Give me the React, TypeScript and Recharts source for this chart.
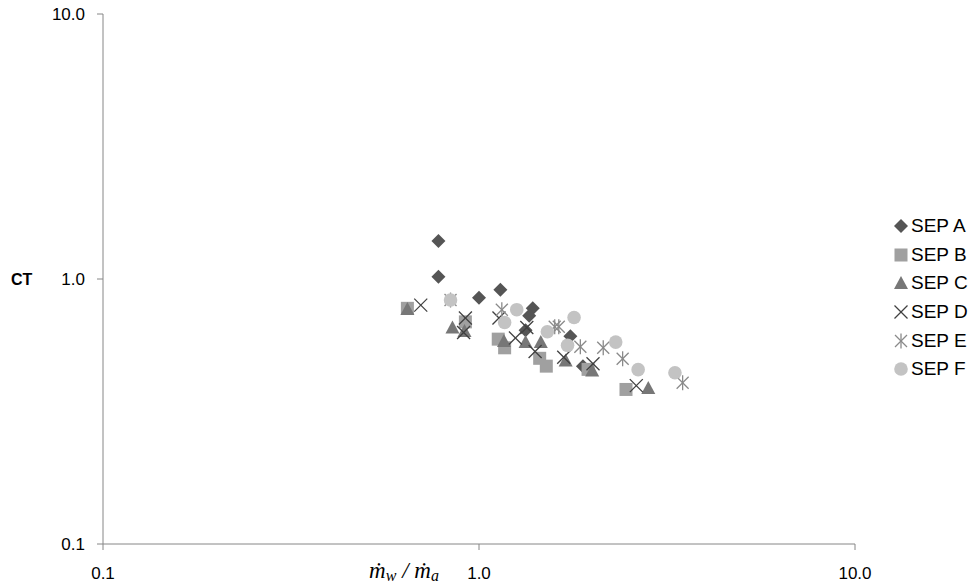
import { ScatterChart, Scatter, XAxis, YAxis } from "recharts";

// series names as shown in the legend
const seriesNames = ["SEP A", "SEP B", "SEP C", "SEP D", "SEP E", "SEP F"];

// mw/ma ratio (x) and CT (y)
const sepAx = [0.78, 0.78, 1.0, 1.14, 1.39, 1.36, 1.33, 1.75, 1.89];
const sepAy = [1.39, 1.02, 0.85, 0.91, 0.775, 0.727, 0.641, 0.608, 0.469];

const sepBx = [0.645, 0.92, 1.125, 1.17, 1.45, 1.51, 1.95, 2.46];
const sepBy = [0.775, 0.689, 0.593, 0.55, 0.502, 0.469, 0.456, 0.383];

const sepCx = [0.645, 0.85, 0.915, 1.165, 1.33, 1.46, 1.7, 2.0, 2.82];
const sepCy = [0.77, 0.656, 0.636, 0.584, 0.579, 0.579, 0.493, 0.452, 0.388];

const sepDx = [0.7, 0.92, 0.91, 1.13, 1.25, 1.34, 1.41, 1.68, 2.01, 2.62];
const sepDy = [0.797, 0.713, 0.628, 0.713, 0.599, 0.656, 0.533, 0.507, 0.479, 0.396];

const sepEx = [0.84, 1.15, 1.59, 1.63, 1.86, 2.14, 2.41, 3.48];
const sepEy = [0.833, 0.766, 0.66, 0.66, 0.555, 0.55, 0.5, 0.406];

const sepFx = [0.84, 1.26, 1.17, 1.79, 1.52, 1.72, 2.31, 2.65, 3.32];
const sepFy = [0.833, 0.766, 0.685, 0.716, 0.632, 0.562, 0.578, 0.455, 0.443];

const xTicks = [0.1, 1, 10];
const yTicks = [0.1, 1, 10];

const toPoints = (xs: number[], ys: number[]) => xs.map((x, i) => ({ x, y: ys[i] }));

type MarkProps = { cx?: number; cy?: number };

function Diamond({ cx = 0, cy = 0 }: MarkProps) {
  const r = 7;
  return <polygon points={`${cx},${cy - r} ${cx + r},${cy} ${cx},${cy + r} ${cx - r},${cy}`} fill="#555555" />;
}

function SquareMark({ cx = 0, cy = 0 }: MarkProps) {
  return <rect x={cx - 6.5} y={cy - 6.5} width={13} height={13} fill="#a0a0a0" />;
}

function TriangleMark({ cx = 0, cy = 0 }: MarkProps) {
  return <polygon points={`${cx},${cy - 7} ${cx + 7},${cy + 6} ${cx - 7},${cy + 6}`} fill="#777777" />;
}

function XMark({ cx = 0, cy = 0 }: MarkProps) {
  const r = 6.5;
  return (
    <g stroke="#404040" strokeWidth={1.3}>
      <line x1={cx - r} y1={cy - r} x2={cx + r} y2={cy + r} />
      <line x1={cx - r} y1={cy + r} x2={cx + r} y2={cy - r} />
    </g>
  );
}

function StarMark({ cx = 0, cy = 0 }: MarkProps) {
  const r = 6;
  return (
    <g stroke="#8a8a8a" strokeWidth={1.3}>
      <line x1={cx - r} y1={cy - r} x2={cx + r} y2={cy + r} />
      <line x1={cx - r} y1={cy + r} x2={cx + r} y2={cy - r} />
      <line x1={cx} y1={cy - r - 1.5} x2={cx} y2={cy + r + 1.5} />
    </g>
  );
}

function CircleMark({ cx = 0, cy = 0 }: MarkProps) {
  return <circle cx={cx} cy={cy} r={6.8} fill="#c3c3c3" />;
}

const series = [
  { name: seriesNames[0], data: toPoints(sepAx, sepAy), Mark: Diamond },
  { name: seriesNames[1], data: toPoints(sepBx, sepBy), Mark: SquareMark },
  { name: seriesNames[2], data: toPoints(sepCx, sepCy), Mark: TriangleMark },
  { name: seriesNames[3], data: toPoints(sepDx, sepDy), Mark: XMark },
  { name: seriesNames[4], data: toPoints(sepEx, sepEy), Mark: StarMark },
  { name: seriesNames[5], data: toPoints(sepFx, sepFy), Mark: CircleMark },
];

// x axis title: m-dot_w / m-dot_a
function FlowTitle() {
  return (
    <text x={404} y={578} textAnchor="middle" fontFamily='"Liberation Serif", "Times New Roman", serif' fontStyle="italic" fontSize={23} fill="#000">
      <tspan>ṁ</tspan>
      <tspan fontSize={16} dy={3}>w</tspan>
      <tspan dy={-3}> / ṁ</tspan>
      <tspan fontSize={16} dy={3}>a</tspan>
    </text>
  );
}

const font = '"Liberation Sans", Arial, sans-serif';

export default function App() {
  return (
    <div style={{ position: "relative", width: 970, height: 588, fontFamily: font, background: "#fff" }}>
      <style>{"body{margin:0}"}</style>
      <ScatterChart width={970} height={588} margin={{ top: 14, right: 115, bottom: 0, left: 0 }}>
        <XAxis
          dataKey="x"
          type="number"
          scale="log"
          domain={[0.1, 10]}
          ticks={xTicks}
          interval={0}
          allowDataOverflow
          height={44}
          stroke="#868686"
          tickSize={6}
          tickMargin={17}
          tick={{ fill: "#000", fontSize: 17, fontFamily: font }}
          tickFormatter={(v: number) => v.toFixed(1)}
          label={<FlowTitle />}
        />
        <YAxis
          dataKey="y"
          type="number"
          scale="log"
          domain={[0.1, 10]}
          ticks={yTicks}
          interval={0}
          allowDataOverflow
          width={103}
          stroke="#868686"
          tickSize={6}
          tickMargin={12}
          tick={{ fill: "#000", fontSize: 17, fontFamily: font }}
          tickFormatter={(v: number) => v.toFixed(1)}
          label={{ value: "CT", position: "insideLeft", offset: 11, angle: 0, style: { fontWeight: "bold", fontSize: 16, fill: "#000", fontFamily: font } }}
        />
        {series.map((s) => (
          <Scatter key={s.name} name={s.name} data={s.data} isAnimationActive={false} shape={(p: MarkProps) => <s.Mark cx={p.cx} cy={p.cy} />} />
        ))}
      </ScatterChart>
      <div style={{ position: "absolute", left: 893, top: 212 }}>
        {series.map((s) => (
          <div key={s.name} style={{ display: "flex", alignItems: "center", height: 28.6, fontSize: 19, color: "#000" }}>
            <svg width={16} height={16} style={{ marginRight: 2 }}>
              <s.Mark cx={8} cy={8} />
            </svg>
            <span>{s.name}</span>
          </div>
        ))}
      </div>
    </div>
  );
}
